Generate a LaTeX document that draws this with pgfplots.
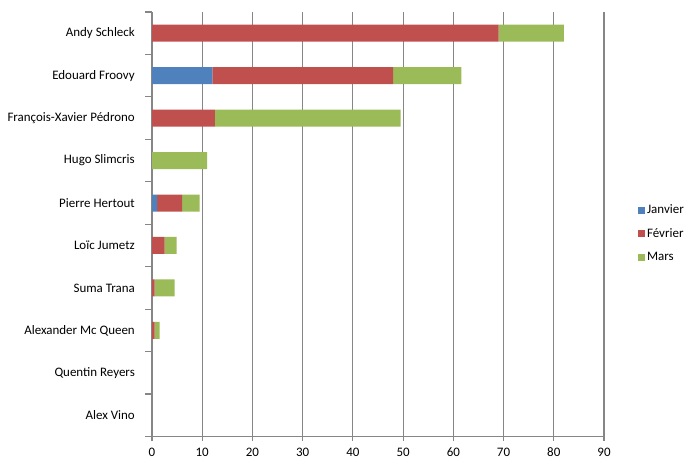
\documentclass[border=0pt]{standalone}
\usepackage{fontspec}
\setmainfont{Carlito}
\usepackage{pgfplots}
\pgfplotsset{compat=1.18}
\definecolor{cjan}{HTML}{4F81BD}
\definecolor{cfev}{HTML}{C0504D}
\definecolor{cmar}{HTML}{9BBB59}
\definecolor{cgrid}{HTML}{868686}
\begin{document}
\begin{tikzpicture}
\fontsize{13}{15}\selectfont
\path[use as bounding box] (0,0) rectangle (693bp,465bp);
\begin{axis}[
  at={(152bp,28.5bp)}, anchor=south west,
  scale only axis, width=452bp, height=424.5bp,
  xbar stacked, bar width=17bp,
  xmin=0, xmax=90, ymin=-0.5, ymax=9.5,
  xtick={0,10,...,90},
  ytick={0,...,9},
  yticklabels={Alex Vino,Quentin Reyers,Alexander Mc Queen,Suma Trana,Loïc Jumetz,Pierre Hertout,Hugo Slimcris,François-Xavier Pédrono,Edouard Froovy,Andy Schleck},
  minor ytick={-0.5,0.5,...,9.5},
  axis x line*=bottom, axis y line*=left,
  axis line style={draw=cgrid, line width=1.2bp, -},
  xmajorgrids, grid style={draw=cgrid, line width=1.2bp},
  major x tick style={draw=cgrid, line width=1.2bp},
  major y tick style={draw=none},
  minor y tick style={draw=cgrid, line width=1.2bp},
  tick align=outside,
  major tick length=4bp, minor tick length=7bp,
  y tick label style={font=\fontsize{13}{15}\selectfont, inner sep=0pt, xshift=-13bp},
  x tick label style={font=\fontsize{13}{15}\selectfont, inner sep=0pt, yshift=-7bp},
  /pgf/number format/assume math mode=true,
  legend style={draw=none, fill=none, at={(1.075,0.478)}, anchor=west,
    font=\fontsize{13}{15}\selectfont, row sep=9bp, inner sep=0pt,
    legend cell align=left},
  legend image code/.code={\fill[#1] (0bp,-3.5bp) rectangle (7bp,3.5bp);},
  every axis plot/.append style={draw=none},
]
\addplot[fill=cjan] coordinates {(0,0) (0,1) (0,2) (0,3) (0,4) (1,5) (0,6) (0,7) (12,8) (0,9)};
\addplot[fill=cfev] coordinates {(0,0) (0,1) (0.5,2) (0.5,3) (2.5,4) (5,5) (0,6) (12.5,7) (36,8) (69,9)};
\addplot[fill=cmar] coordinates {(0,0) (0,1) (1,2) (4,3) (2.4,4) (3.5,5) (11,6) (37,7) (13.6,8) (13,9)};
\legend{Janvier,Février,Mars}
\end{axis}
\end{tikzpicture}
\end{document}
